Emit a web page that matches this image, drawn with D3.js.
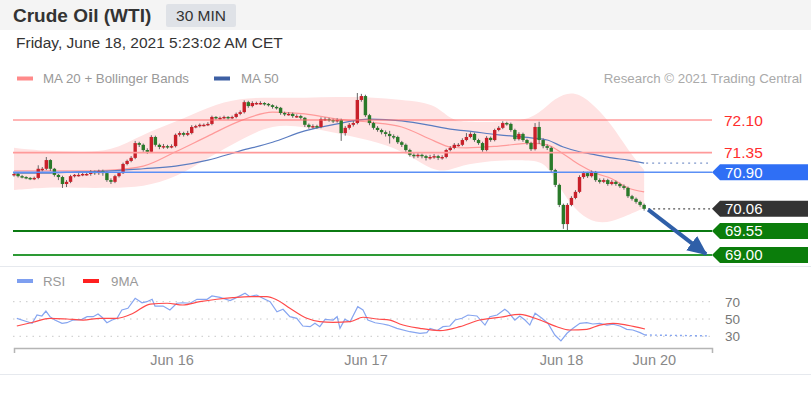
<!DOCTYPE html>
<html><head><meta charset="utf-8">
<script src="https://cdn.jsdelivr.net/npm/d3@7"></script>
<style>body{margin:0;background:#fff;} svg{display:block;font-family:"Liberation Sans",Arial,sans-serif;}</style>
</head><body><svg id="c" width="811" height="394"></svg>
<script>
// ---------- DATA ----------
const opens = [70.84,70.86,70.81,70.79,70.77,70.75,70.77,70.98,70.98,71.18,
70.98,70.84,70.79,70.63,70.68,70.81,70.84,70.84,70.86,70.86,
70.91,70.88,70.93,70.88,70.72,70.68,70.81,70.88,71.09,71.16,
71.23,71.57,71.53,71.41,71.37,71.71,71.53,71.48,71.50,71.48,
71.50,71.76,71.80,71.76,71.80,71.94,71.96,71.99,71.99,72.01,
72.17,72.15,72.15,72.17,72.15,72.17,72.24,72.28,72.51,72.42,
72.49,72.49,72.49,72.47,72.44,72.40,72.38,72.26,72.24,72.24,
72.19,72.19,72.15,71.99,71.94,71.96,71.94,72.12,72.12,72.10,
72.08,72.10,71.80,71.92,71.99,72.03,72.56,72.65,72.21,72.03,
71.92,71.87,71.82,71.78,71.73,71.71,71.59,71.53,71.41,71.30,
71.27,71.30,71.27,71.23,71.25,71.27,71.23,71.25,71.41,71.46,
71.53,71.53,71.64,71.71,71.78,71.64,71.57,71.41,71.69,71.64,
71.87,71.92,72.03,72.01,71.87,71.66,71.78,71.64,71.57,71.43,
71.94,71.64,71.50,71.46,70.95,70.61,70.15,69.71,70.15,70.31,
70.45,70.79,70.88,70.81,70.91,70.72,70.68,70.72,70.63,70.68,
70.63,70.58,70.54,70.35,70.29,70.22,70.15];
const highs = [70.90,70.88,70.84,70.81,70.79,70.80,71.06,71.02,71.25,71.20,
71.00,70.86,70.82,70.72,70.84,70.86,70.88,70.89,70.90,70.95,
70.94,70.96,70.96,70.92,70.76,70.84,70.91,71.12,71.19,71.27,
71.62,71.60,71.56,71.45,71.75,71.74,71.56,71.55,71.53,71.54,
71.79,71.84,71.83,71.85,71.98,71.99,72.02,72.02,72.05,72.20,
72.19,72.18,72.20,72.19,72.20,72.27,72.32,72.55,72.54,72.53,
72.52,72.53,72.51,72.49,72.46,72.43,72.40,72.29,72.28,72.27,
72.23,72.22,72.17,72.02,72.00,71.99,72.16,72.16,72.15,72.13,
72.14,72.13,71.96,72.03,72.08,72.72,72.70,72.68,72.24,72.06,
71.96,71.90,71.86,71.85,71.77,71.74,71.62,71.56,71.44,71.34,
71.34,71.33,71.30,71.30,71.32,71.30,71.29,71.44,71.50,71.57,
71.57,71.68,71.80,71.82,71.81,71.67,71.60,71.73,71.72,71.90,
71.96,72.07,72.06,72.04,71.90,71.82,71.81,71.67,71.60,72.03,
72.06,71.68,71.54,71.49,70.98,70.64,70.18,70.19,70.35,70.49,
70.83,70.92,70.91,70.94,70.93,70.76,70.76,70.75,70.72,70.71,
70.66,70.62,70.57,70.38,70.32,70.25,70.18];
const lows = [70.80,70.78,70.76,70.74,70.72,70.72,70.74,70.92,70.95,70.93,
70.80,70.72,70.54,70.56,70.65,70.78,70.80,70.81,70.82,70.82,
70.84,70.84,70.82,70.68,70.63,70.65,70.78,70.86,71.06,71.13,
71.20,71.48,71.37,71.32,71.35,71.49,71.43,71.44,71.44,71.45,
71.47,71.72,71.72,71.73,71.77,71.91,71.93,71.95,71.96,71.98,
72.11,72.11,72.12,72.11,72.12,72.14,72.21,72.25,72.38,72.39,
72.45,72.45,72.43,72.41,72.36,72.34,72.22,72.19,72.20,72.15,
72.15,72.11,71.94,71.90,71.90,71.90,71.91,72.08,72.06,72.03,
72.04,71.62,71.74,71.88,71.95,72.00,72.52,72.17,71.98,71.88,
71.83,71.77,71.72,71.56,71.66,71.55,71.48,71.37,71.26,71.22,
71.23,71.22,71.17,71.19,71.21,71.18,71.19,71.22,71.38,71.43,
71.49,71.50,71.61,71.68,71.60,71.53,71.37,71.38,71.60,71.61,
71.84,71.89,71.97,71.83,71.62,71.63,71.60,71.53,71.39,71.40,
71.55,71.45,71.41,70.90,70.56,70.10,69.60,69.57,70.12,70.28,
70.42,70.75,70.77,70.78,70.68,70.64,70.65,70.59,70.60,70.59,
70.54,70.50,70.31,70.25,70.18,70.11,70.02];
const closes = [70.86,70.81,70.79,70.77,70.75,70.77,70.98,70.98,71.18,70.98,
70.84,70.79,70.63,70.68,70.81,70.84,70.84,70.86,70.86,70.91,
70.88,70.93,70.88,70.72,70.68,70.81,70.88,71.09,71.16,71.23,
71.57,71.53,71.41,71.37,71.71,71.53,71.48,71.50,71.48,71.50,
71.76,71.80,71.76,71.80,71.94,71.96,71.99,71.99,72.01,72.17,
72.15,72.15,72.17,72.15,72.17,72.24,72.28,72.51,72.42,72.49,
72.49,72.49,72.47,72.44,72.40,72.38,72.26,72.24,72.24,72.19,
72.19,72.15,71.99,71.94,71.96,71.94,72.12,72.12,72.10,72.08,
72.10,71.80,71.92,71.99,72.03,72.56,72.65,72.21,72.03,71.92,
71.87,71.82,71.78,71.73,71.71,71.59,71.53,71.41,71.30,71.27,
71.30,71.27,71.23,71.25,71.27,71.23,71.25,71.41,71.46,71.53,
71.53,71.64,71.71,71.78,71.64,71.57,71.41,71.69,71.64,71.87,
71.92,72.03,72.01,71.87,71.66,71.78,71.64,71.57,71.43,71.94,
71.64,71.50,71.46,70.95,70.61,70.15,69.71,70.15,70.31,70.45,
70.79,70.88,70.81,70.91,70.72,70.68,70.72,70.63,70.68,70.63,
70.58,70.54,70.35,70.29,70.22,70.15,70.06];

// indicator curves at these candle indices
const bandIdx = [0,8,16,24,32,40,48,56,64,72,80,88,96,104,108,112,120,128,132,136,140,144,148,152,156];
const bbUpper = [71.46,71.39,71.37,71.37,71.78,72.05,72.40,72.61,72.61,72.61,72.63,72.63,72.56,72.49,72.10,72.05,72.05,72.10,72.44,72.72,72.72,72.40,71.99,71.41,70.95];
const bbLower = [70.49,70.56,70.54,70.54,70.56,70.77,71.23,71.64,72.01,71.94,71.80,71.64,71.41,70.90,70.95,71.09,71.18,71.18,71.11,70.38,69.94,69.73,69.76,69.92,70.08];
const ma20 = [70.93,70.93,70.93,70.95,71.04,71.37,71.73,72.08,72.28,72.24,72.12,72.05,71.94,71.62,71.48,71.46,71.50,71.57,71.53,71.32,71.07,70.88,70.75,70.54,70.45];
const ma50 = [70.88,70.88,70.91,70.93,70.98,71.04,71.18,71.39,71.59,71.85,72.01,72.12,72.08,71.96,71.89,71.85,71.76,71.69,71.64,71.48,71.37,71.30,71.23,71.18,71.11];

const rsiIdx = [0.7,2.7,4.5,5.7,6.9,7.9,8.9,10.1,11.9,13.1,14.6,16.8,18.1,19.6,20.8,21.8,23.0,24.3,25.5,26.7,28.2,30.0,31.7,32.9,34.2,34.9,36.9,38.6,40.3,41.8,43.6,45.3,47.8,49.0,51.0,53.5,55.2,57.2,58.4,60.1,61.6,63.4,65.1,66.6,68.3,70.0,71.5,73.3,74.5,75.7,77.0,79.0,80.0,80.7,81.9,83.2,85.1,86.4,87.6,89.4,91.3,92.6,94.8,98.0,100.5,102.2,103.0,104.7,106.2,107.9,109.2,110.9,112.4,114.6,116.6,117.8,119.6,121.5,122.3,124.0,125.2,126.5,127.7,129.0,130.7,132.2,133.9,135.4,136.9,138.4,140.1,141.8,143.3,145.0,146.8,148.3,150.0,151.7,153.2,155.0,156.2];
const rsiVal = [50.8,47.7,45,54.6,53.5,59.2,52.7,48.8,45,45.7,48.8,49.6,52.7,52.7,55.8,52,45.7,48.8,50.8,60.4,62.4,73.9,68.8,70,72.8,65,65,60.4,68.2,68.8,68.2,72.8,72.8,76.6,75,71.2,75,79.7,75.8,77.7,73.9,70,58.4,61.2,52.7,50.8,41.9,41.1,45,41.1,49.6,48.8,52.7,39.2,49.6,46.9,64.2,60.4,48.8,45.7,44.2,43,39.2,35.3,33.5,34.2,39.2,36.5,41.1,41.9,48.8,50.8,54.6,53.5,43,52.7,54.6,61.2,58.4,48.8,53.5,48.8,43,56.6,50.8,45,31.5,24.6,33.5,39.2,45,45.7,44.2,45,43,43.9,41.9,38.1,37.3,34.2,31.5];
const rsiMaIdx = [0.7,4.7,8.9,13.1,17.1,21.3,25.5,29.5,33.7,37.9,41.8,46.0,50.2,54.2,58.4,62.6,65.1,68.3,72.5,75.7,79.0,83.2,86.4,89.9,93.1,95.5,100.5,105.4,110.4,115.3,120.3,125.2,130.2,134.4,137.6,141.8,145.0,148.3,151.7,156.2];
const rsiMaVal = [41.9,46.2,50.8,50,48.8,50.8,50.8,56.6,67.3,68.2,66.2,70,72.8,74.6,75.8,75.8,72,62.4,50.8,46.9,46.2,46.9,52,50,48.8,44.2,39.2,36.5,41.1,48.8,52,55.4,48.8,41.1,37.3,38.1,43,45,43,38.4];
const rsiProjected = 30.5;

const xTickIdx = [39, 87, 135.4, 158.4];
const xTickLabels = ["Jun 16", "Jun 17", "Jun 18", "Jun 20"];
const levels = [72.10, 71.35, 70.90, 70.06, 69.55, 69.00];
const levelLabels = ["72.10", "71.35", "70.90", "70.06", "69.55", "69.00"];
const rsiTicks = [70, 50, 30];
const arrowIdx = [157, 171.3];
const arrowPrice = [70.04, 69.02];

// ---------- SCALES ----------
const svg = d3.select("#c");
const X0 = 14, X1 = 712;
const x = d3.scaleLinear().domain([0, 172.8]).range([X0, X1]);
const y = d3.scaleLinear().domain([69.00, 72.10]).range([255, 120]);
const yR = d3.scaleLinear().domain([30, 70]).range([336.3, 301.7]);
const lastI = closes.length - 1;

// ---------- HEADER ----------
svg.append("rect").attr("x",0).attr("y",0).attr("width",811).attr("height",30).attr("fill","#f4f4f4");
svg.append("text").attr("x",13).attr("y",21.5).attr("font-size",19).attr("font-weight","bold").attr("fill","#333").text("Crude Oil (WTI)");
svg.append("rect").attr("x",166).attr("y",4).attr("width",70).attr("height",23).attr("rx",2).attr("fill","#dfe2e7");
svg.append("text").attr("x",201).attr("y",20.5).attr("text-anchor","middle").attr("font-size",15.5).attr("fill","#333").text("30 MIN");
svg.append("text").attr("x",16).attr("y",48).attr("font-size",15.5).attr("fill","#333").text("Friday, June 18, 2021 5:23:02 AM CET");

// legend
svg.append("rect").attr("x",17).attr("y",76.5).attr("width",16).attr("height",4).attr("fill","#ff8a8a");
svg.append("text").attr("x",43).attr("y",83).attr("font-size",13.3).attr("fill","#999").text("MA 20 + Bollinger Bands");
svg.append("rect").attr("x",214).attr("y",76.5).attr("width",16).attr("height",4).attr("fill","#3d5fa3");
svg.append("text").attr("x",241).attr("y",83).attr("font-size",13.3).attr("fill","#999").text("MA 50");
svg.append("text").attr("x",802).attr("y",83).attr("text-anchor","end").attr("font-size",13.3).attr("fill","#aaa").text("Research © 2021 Trading Central");

// ---------- MAIN CHART ----------
const bandData = bandIdx.map((i,k)=>({i, hi:bbUpper[k], lo:bbLower[k], m20:ma20[k], m50:ma50[k]}));
svg.append("path").datum(bandData)
  .attr("d", d3.area().x(d=>x(d.i)).y0(d=>y(d.lo)).y1(d=>y(d.hi)).curve(d3.curveBasis))
  .attr("fill","#ffe3e3");
svg.append("path").datum(bandData)
  .attr("d", d3.line().x(d=>x(d.i)).y(d=>y(d.m20)).curve(d3.curveMonotoneX))
  .attr("fill","none").attr("stroke","#ff9a9a").attr("stroke-width",1.2);
svg.append("path").datum(bandData)
  .attr("d", d3.line().x(d=>x(d.i)).y(d=>y(d.m50)).curve(d3.curveMonotoneX))
  .attr("fill","none").attr("stroke","#5a7cc0").attr("stroke-width",1.2);
// MA50 dotted projection
svg.append("line").attr("x1",x(bandIdx[bandIdx.length-1])+2).attr("x2",X1-4)
  .attr("y1",y(ma50[ma50.length-1])).attr("y2",y(ma50[ma50.length-1]))
  .attr("stroke","#7f98cc").attr("stroke-width",1.2).attr("stroke-dasharray","2,4");

// candles
const candles = closes.map((c,i)=>({i, o:opens[i], h:highs[i], l:lows[i], c}));
const cg = svg.append("g");
cg.selectAll("line").data(candles).join("line")
  .attr("x1",d=>x(d.i)).attr("x2",d=>x(d.i))
  .attr("y1",d=>y(d.h)).attr("y2",d=>y(d.l))
  .attr("stroke","#666").attr("stroke-width",1);
cg.selectAll("rect").data(candles).join("rect")
  .attr("x",d=>x(d.i)-1.7).attr("width",3.4)
  .attr("y",d=>y(Math.max(d.o,d.c)))
  .attr("height",d=>Math.max(1.4, Math.abs(y(d.o)-y(d.c))))
  .attr("fill",d=>d.c>=d.o ? "#c8202a" : "#2a7a2a");

// level lines
const levelStyle = [
  {stroke:"#ff6b6b", w:1, line:true},
  {stroke:"#ff9a9a", w:1.6, line:true},
  {stroke:"#5b8ff5", w:1.6, line:true},
  {stroke:"none", w:0, line:false},
  {stroke:"#0b7a12", w:2, line:true},
  {stroke:"#2d9a35", w:2, line:true}
];
levels.forEach((v,k)=>{
  if (levelStyle[k].line) {
    svg.append("line").attr("x1",13).attr("x2",X1).attr("y1",y(v)).attr("y2",y(v))
      .attr("stroke",levelStyle[k].stroke).attr("stroke-width",levelStyle[k].w);
  }
});
// last price dotted leader
svg.append("line").attr("x1",x(lastI)+4).attr("x2",X1-2)
  .attr("y1",y(closes[lastI])).attr("y2",y(closes[lastI]))
  .attr("stroke","#555").attr("stroke-width",1.2).attr("stroke-dasharray","2,3");

// level labels
const flagFill = [null, null, "#2f6ff5", "#333333", "#0b7d0b", "#0b7d0b"];
levels.forEach((v,k)=>{
  const cy = y(v);
  if (flagFill[k]) {
    svg.append("path")
      .attr("d",`M${X1},${cy} L${X1+8},${cy-8} L808,${cy-8} L808,${cy+8} L${X1+8},${cy+8} Z`)
      .attr("fill",flagFill[k]);
    svg.append("text").attr("x",725).attr("y",cy).attr("dy","0.36em")
      .attr("font-size",15).attr("fill","#fff").text(levelLabels[k]);
  } else {
    svg.append("text").attr("x",724).attr("y",cy).attr("dy","0.36em")
      .attr("font-size",15.5).attr("fill","#ff2d2d").text(levelLabels[k]);
  }
});

// projection arrow
const defs = svg.append("defs");
defs.append("marker").attr("id","ah").attr("markerUnits","userSpaceOnUse")
  .attr("viewBox","0 0 20 20").attr("refX",18).attr("refY",10)
  .attr("markerWidth",20).attr("markerHeight",20).attr("orient","auto")
  .append("path").attr("d","M0,1 L20,10 L0,19 Z").attr("fill","#2f5fa8");
svg.append("line")
  .attr("x1",x(arrowIdx[0])).attr("y1",y(arrowPrice[0]))
  .attr("x2",x(arrowIdx[1])).attr("y2",y(arrowPrice[1]))
  .attr("stroke","#2f5fa8").attr("stroke-width",4).attr("marker-end","url(#ah)");

// ---------- RSI PANEL ----------
svg.append("line").attr("x1",0).attr("x2",811).attr("y1",266.5).attr("y2",266.5).attr("stroke","#e6e9ee");
svg.append("line").attr("x1",0).attr("x2",811).attr("y1",374.5).attr("y2",374.5).attr("stroke","#e6e9ee");

svg.append("rect").attr("x",17).attr("y",279).attr("width",16).attr("height",4).attr("fill","#7e9ff0");
svg.append("text").attr("x",43).attr("y",285.5).attr("font-size",13.3).attr("fill","#999").text("RSI");
svg.append("rect").attr("x",83).attr("y",279).attr("width",16).attr("height",4).attr("fill","#ff2020");
svg.append("text").attr("x",111).attr("y",285.5).attr("font-size",13.3).attr("fill","#999").text("9MA");

rsiTicks.forEach(t=>{
  svg.append("line").attr("x1",13).attr("x2",X1).attr("y1",yR(t)).attr("y2",yR(t))
    .attr("stroke","#c8c8c8").attr("stroke-dasharray","1.5,5");
  svg.append("text").attr("x",725).attr("y",yR(t)).attr("dy","0.36em")
    .attr("font-size",13.5).attr("fill","#777").text(t);
});

const rsiData = rsiIdx.map((i,k)=>({i, v:rsiVal[k]}));
const rsiMaData = rsiMaIdx.map((i,k)=>({i, v:rsiMaVal[k]}));
svg.append("path").datum(rsiData)
  .attr("d", d3.line().x(d=>x(d.i)).y(d=>yR(d.v)))
  .attr("fill","none").attr("stroke","#86a5f0").attr("stroke-width",1.2);
svg.append("path").datum(rsiMaData)
  .attr("d", d3.line().x(d=>x(d.i)).y(d=>yR(d.v)).curve(d3.curveMonotoneX))
  .attr("fill","none").attr("stroke","#ff4a4a").attr("stroke-width",1.2);
svg.append("line").attr("x1",x(rsiIdx[rsiIdx.length-1])).attr("x2",X1-4)
  .attr("y1",yR(rsiVal[rsiVal.length-1])).attr("y2",yR(rsiProjected))
  .attr("stroke","#86a5f0").attr("stroke-width",1.4).attr("stroke-dasharray","2,3");

// x axis
const xAxis = d3.axisBottom(x).tickValues(xTickIdx).tickFormat((d,k)=>xTickLabels[k])
  .tickSizeInner(0).tickSizeOuter(5).tickPadding(7);
const ax = svg.append("g").attr("transform","translate(0,348)").call(xAxis);
ax.select(".domain").attr("stroke","#b5b5b5").attr("stroke-width",1.5);
ax.selectAll("text").attr("font-size",14.5).attr("fill","#888").attr("font-family","Liberation Sans, Arial, sans-serif");
</script></body></html>
